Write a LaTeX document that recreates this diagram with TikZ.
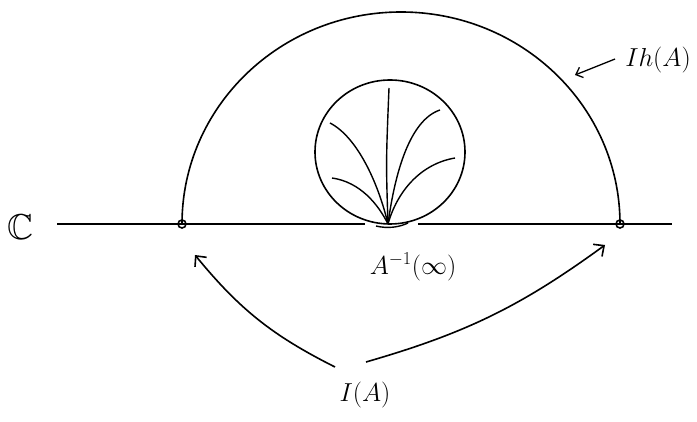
\documentclass[tikz,border=0pt]{standalone}
\usepackage{fix-cm}
\usepackage{amssymb}
\usetikzlibrary{arrows.meta}
\usetikzlibrary{positioning}
\definecolor{fg}{rgb}{0,0,0}
\tikzstyle{axis}=[draw=fg, line width=2.2pt]
\tikzstyle{curve}=[draw=fg, line width=1.6pt]
\tikzstyle{leaf}=[draw=fg, line width=1.4pt]
\tikzstyle{myarrow}=[draw=fg, line width=1.6pt, -{Straight Barb[length=8pt,width=15pt]}]
\tikzstyle{lbl}=[text=fg, font=\fontsize{26}{30}\selectfont, inner sep=0pt]
\tikzstyle{endpt}=[draw=fg, line width=1.6pt, circle, minimum size=8pt, inner sep=0pt]

\begin{document}
\begin{tikzpicture}[x=1pt, y=1pt]

    \useasboundingbox (0,0) rectangle (697,422);

    % COMPLEX LINE
    \node[lbl, font=\fontsize{36}{40}\selectfont] (C) at (20,195) {$\mathbb{C}$};
    \coordinate (lineL) at (57,198);
    \coordinate (lineM1) at (365,198);
    \coordinate (lineM2) at (418,198);
    \coordinate (lineR) at (672,198);
    \draw[axis] (lineL) -- (lineM1);
    \draw[axis] (lineM2) -- (lineR);

    % END POINTS
    \node[endpt] (p) at (182,198) {};
    \node[endpt] (q) at (620,198) {};

    % BIG ARC
    \draw[curve] (p.center) arc[start angle=180, end angle=0, x radius=219, y radius=212];
    \node[lbl] (Ih) at (658,362) {$Ih(A)$};
    \coordinate (arcPt) at (575,347);
    \draw[myarrow, line width=1.3pt, -{Straight Barb[length=6pt,width=11pt]}] (Ih.west) ++(-10,1) coordinate (IhTail) -- (arcPt);

    % SMALL CIRCLE
    \coordinate (base) at (388,198);
    \draw[curve] (390,270) ellipse[x radius=75, y radius=72];

    % LEAVES
    \draw[leaf] (base) .. controls (386,260) .. (389,334);
    \draw[leaf] (base) .. controls (378,240) and (357,285) .. (330,299);
    \draw[leaf] (base) .. controls (378,218) and (360,240) .. (332,244);
    \draw[leaf] (base) .. controls (395,250) and (410,302) .. (440,312);
    \draw[leaf] (base) .. controls (397,230) and (420,258) .. (455,264);
    \draw[leaf] (376,196) .. controls (388,193) and (400,195) .. (408,199);

    \node[lbl] (Ainf) at (413,155) {$A^{-1}(\infty)$};

    % INTERVAL
    \node[lbl] (IA) at (365,27) {$I(A)$};
    \coordinate (sL) at (335,55);
    \coordinate (tL) at (195,167);
    \coordinate (sR) at (366,60);
    \coordinate (tR) at (605,177);
    \draw[myarrow] (sL) to[bend left=12] (tL);
    \draw[myarrow] (sR) to[bend right=10] (tR);

\end{tikzpicture}
\end{document}
